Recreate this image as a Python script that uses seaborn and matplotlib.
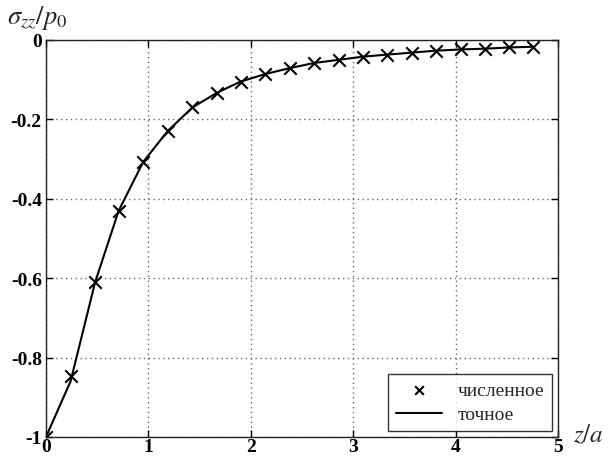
import matplotlib
matplotlib.use("Agg")
import matplotlib.pyplot as plt
import seaborn as sns
import pandas as pd

# depth z/a along the axis
z_vals = [0.0, 0.24, 0.48, 0.71, 0.95, 1.19, 1.43, 1.67, 1.90, 2.14, 2.38,
          2.62, 2.86, 3.10, 3.33, 3.57, 3.81, 4.05, 4.29, 4.52, 4.76]
# numerical solution sigma_zz / p0
numeric = [-1.0, -0.846, -0.610, -0.430, -0.307, -0.229, -0.170, -0.133, -0.105,
           -0.086, -0.071, -0.058, -0.050, -0.042, -0.037, -0.032, -0.027,
           -0.024, -0.022, -0.019, -0.017]
# exact solution sigma_zz / p0
exact = [-1.0, -0.860, -0.610, -0.430, -0.307, -0.229, -0.170, -0.133, -0.105,
         -0.086, -0.071, -0.058, -0.050, -0.042, -0.037, -0.032, -0.027,
         -0.024, -0.022, -0.019, -0.017]

label_num = "численное"
label_exact = "точное"
x_ticks = [0, 1, 2, 3, 4, 5]
y_ticks = [-1, -0.8, -0.6, -0.4, -0.2, 0]
y_tick_labels = ["-1", "-0.8", "-0.6", "-0.4", "-0.2", "0"]

sns.set_theme(style="ticks")
plt.rcParams["font.family"] = ["Liberation Serif", "DejaVu Serif"]
plt.rcParams["mathtext.fontset"] = "stix"

df_num = pd.DataFrame({"z": z_vals, "s": numeric})
df_exact = pd.DataFrame({"z": z_vals, "s": exact})

fig = plt.figure(figsize=(6.1, 4.6), dpi=100)
ax = fig.add_axes([0.0754, 0.048, 0.8394, 0.863])

sns.scatterplot(data=df_num, x="z", y="s", ax=ax, marker="x", s=80,
                color="black", linewidth=1.5, label=label_num, zorder=3)
sns.lineplot(data=df_exact, x="z", y="s", ax=ax, color="black",
             linewidth=1.5, label=label_exact, zorder=2)

ax.set_xlim(0, 5)
ax.set_ylim(-1, 0)
ax.set_xticks(x_ticks)
ax.set_xticklabels([str(t) for t in x_ticks])
ax.set_yticks(y_ticks)
ax.set_yticklabels(y_tick_labels)
ax.grid(True, linestyle=(0, (1, 2.5)), color="#666666", linewidth=1.0)
ax.tick_params(direction="in", top=True, right=True, length=5, width=1,
               labelsize=14, colors="black")
ax.tick_params(axis="x", pad=1)
ax.tick_params(axis="y", pad=3)
for lab in ax.get_xticklabels() + ax.get_yticklabels():
    lab.set_fontweight("bold")
for sp in ax.spines.values():
    sp.set_linewidth(1.0)
    sp.set_color("#222222")

ax.set_xlabel("")
ax.set_ylabel("")
fig.text(0.012, 0.948, r"$\sigma_{zz}/p_0$", fontsize=19, ha="left",
         va="baseline")
fig.text(0.94, 0.038, r"$z/a$", fontsize=18, ha="left", va="baseline")

leg = ax.legend(loc="lower right", frameon=True, fancybox=False,
                edgecolor="black", fontsize=14, borderaxespad=0.3,
                handlelength=2.4, borderpad=0.4, labelspacing=0.35,
                markerscale=0.7)
leg.get_frame().set_linewidth(1.0)

fig.savefig("out.png", dpi=100)
